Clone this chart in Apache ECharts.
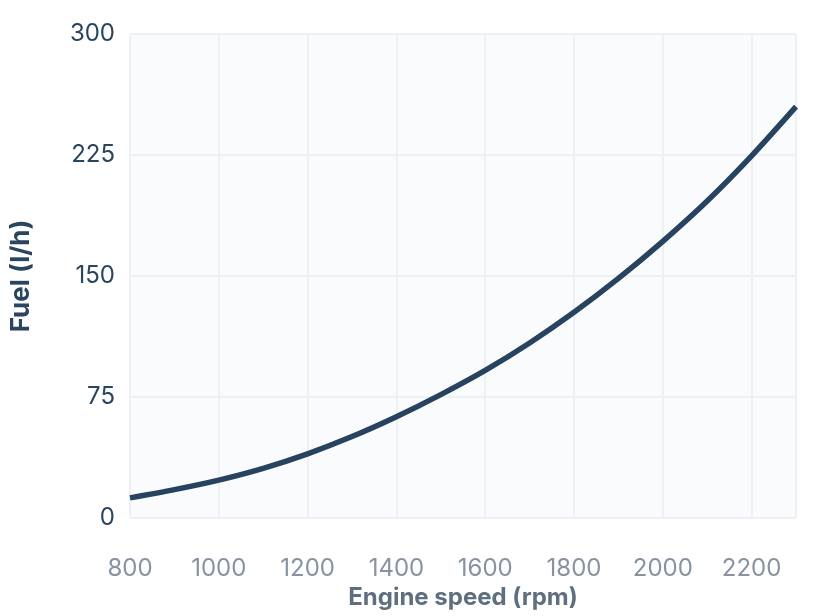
<!DOCTYPE html>
<html lang="en">
<head>
    <meta charset="UTF-8">
    <title>Fuel consumption</title>
    <script src="https://cdn.jsdelivr.net/npm/echarts@6/dist/echarts.min.js"></script>
    <style>
        body{
            margin: 0;
            background: #fff;
        }
        #chart{
            width: 816px;
            height: 616px;
        }
    </style>
</head>
<body>
    <div id="chart"></div>
    <script>
        // engine speed (rpm) and fuel use (l/h)
        var rpm = [800, 900, 1000, 1100, 1200, 1300, 1400, 1500, 1600, 1700, 1800, 1900, 2000, 2100, 2200, 2300];
        var fuel = [12.5, 17.6, 23.5, 30.8, 39.8, 50.5, 62.8, 76.5, 91.5, 108.5, 127.5, 148.5, 171.5, 196.5, 224.5, 255.0];

        var points = [];
        for (let i = 0; i < rpm.length; i++) {
            points.push([rpm[i], fuel[i]]);
        }

        var myChart = echarts.init(document.getElementById('chart'));
        var option = {
            animation: false,
            textStyle: {
                fontFamily: 'Inter'
            },
            grid: {
                left: 128,
                right: 20,
                top: 34,
                bottom: 98,
                show: true,
                backgroundColor: '#f9fbfd',
                borderWidth: 0
            },
            xAxis: {
                type: 'value',
                min: 800,
                max: 2300,
                interval: 200,
                name: 'Engine speed (rpm)',
                nameLocation: 'middle',
                nameGap: 66,
                nameTextStyle: {
                    color: '#5f6f80',
                    fontSize: 24,
                    fontWeight: 'bold'
                },
                axisLine: { show: false },
                axisTick: { show: false },
                axisLabel: {
                    color: '#8793a0',
                    fontSize: 24,
                    margin: 39,
                    showMaxLabel: false,
                    formatter: function (v) { return String(v); }
                },
                splitLine: {
                    show: true,
                    lineStyle: { color: '#edf0f4', width: 2 }
                }
            },
            yAxis: {
                type: 'value',
                min: 0,
                max: 300,
                interval: 75,
                name: 'Fuel (l/h)',
                nameLocation: 'middle',
                nameGap: 96,
                nameTextStyle: {
                    color: '#2a4560',
                    fontSize: 26,
                    fontWeight: 'bold'
                },
                axisLine: { show: false },
                axisTick: { show: false },
                axisLabel: {
                    color: '#2a4560',
                    fontSize: 24,
                    margin: 15
                },
                splitLine: {
                    show: true,
                    lineStyle: { color: '#edf0f4', width: 2 }
                }
            },
            series: [
                {
                    type: 'line',
                    data: points,
                    smooth: 0.3,
                    showSymbol: false,
                    lineStyle: {
                        color: '#27435f',
                        width: 5.5
                    }
                }
            ]
        };

        myChart.setOption(option);
    </script>
</body>
</html>
